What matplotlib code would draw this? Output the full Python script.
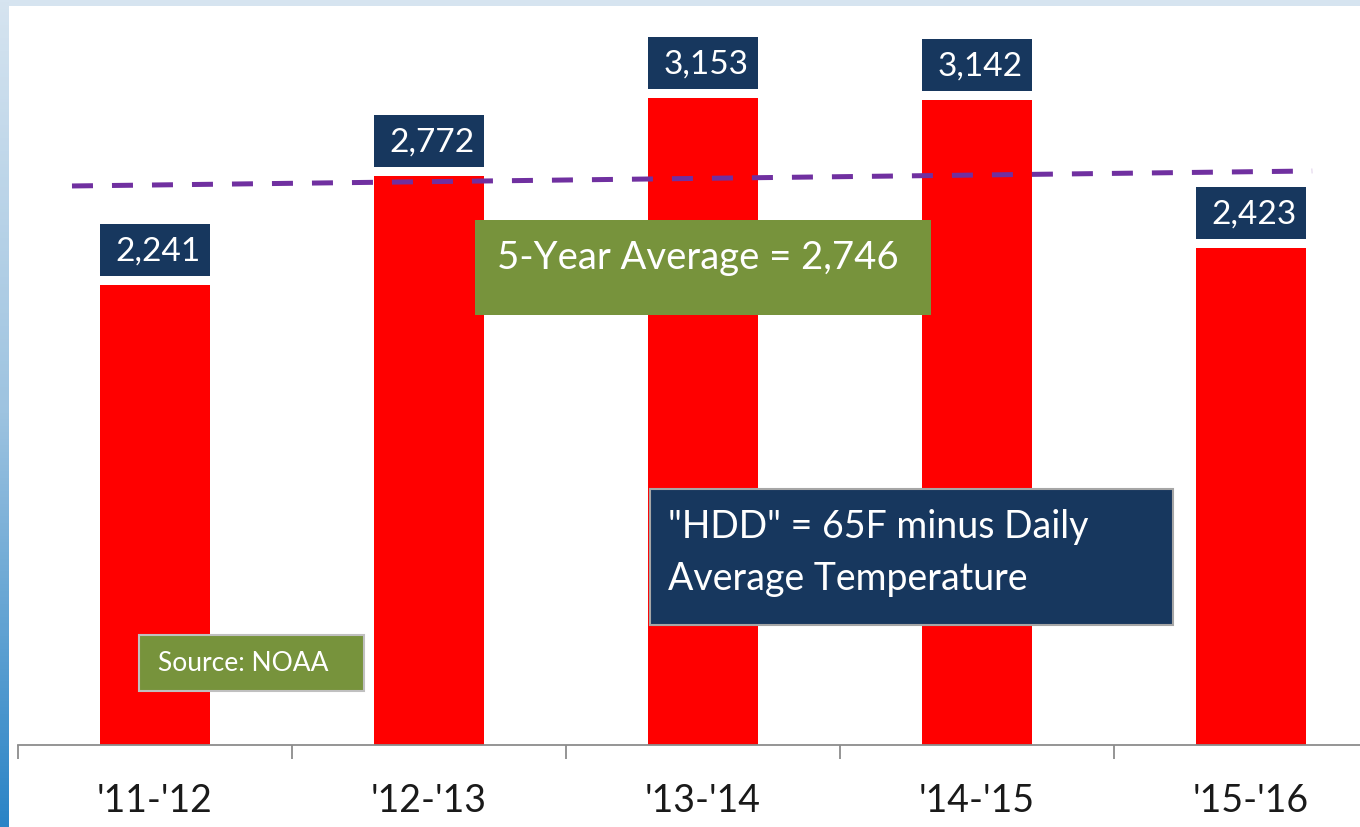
import numpy as np
import matplotlib
matplotlib.use("Agg")
import matplotlib.pyplot as plt
from matplotlib.patches import Rectangle
from matplotlib.colors import LinearSegmentedColormap

# ---- data ----
seasons = ["'11-'12", "'12-'13", "'13-'14", "'14-'15", "'15-'16"]
hdd = [2241, 2772, 3153, 3142, 2423]
value_labels = ["2,241", "2,772", "3,153", "3,142", "2,423"]
avg_line = [2723, 2796]          # dashed 5-year average line (start, end), as drawn
avg_text = "5-Year Average = 2,746"
hdd_text = "\"HDD\" = 65F minus Daily\nAverage Temperature"
source_text = "Source: NOAA"

plt.rcParams['font.family'] = ['Lato', 'DejaVu Sans']

W, H = 1360, 828
fig = plt.figure(figsize=(W / 100, H / 100), dpi=100)
fig.patch.set_facecolor('white')

# ---- background frame (pixel coords) ----
bg = fig.add_axes([0, 0, 1, 1])
bg.axis('off')
bg.add_patch(Rectangle((0, 0), W, 7, color='#D6E4F0', lw=0))
grad = np.linspace(0, 1, 256).reshape(-1, 1)
cm = LinearSegmentedColormap.from_list('strip', ['#D6E4F0', '#9DC3E0', '#2A84C6'])
bg.imshow(grad, cmap=cm, aspect='auto', extent=[0, 9, H, 0], zorder=1)
bg.set_xlim(0, W)
bg.set_ylim(H, 0)

# ---- main chart ----
ax = fig.add_axes([0, 0, 1, 1])
ax.patch.set_alpha(0)
px_per_cat = 274.0
px_per_unit = 0.2053
base_px = 746.0
x0_px = 18.0
ax.set_xlim(-0.5 - x0_px / px_per_cat, -0.5 + (W - x0_px) / px_per_cat)
ax.set_ylim(-(H - base_px) / px_per_unit, base_px / px_per_unit)

x = np.arange(len(seasons))
bar_w = 0.40
ax.bar(x, hdd, width=bar_w, color='#FF0000', zorder=2)

# value label boxes
gap = 9 / px_per_unit
bh = 52 / px_per_unit
for xi, v, lab in zip(x, hdd, value_labels):
    ax.add_patch(Rectangle((xi - bar_w / 2, v + gap), bar_w, bh,
                           facecolor='#17375E', edgecolor='none', zorder=3))
    ax.text(xi + 0.01, v + gap + bh / 2 - 1 / px_per_unit, lab, ha='center', va='center',
            color='white', fontsize=24, zorder=4)

# dashed average line
ax.plot([-0.303, 4.223], avg_line, color='#7030A0', lw=3.6,
        dashes=(4.2, 3.8), solid_capstyle='butt', zorder=5)

# axis
for s in ['top', 'right', 'left']:
    ax.spines[s].set_visible(False)
ax.spines['bottom'].set_position(('data', 0))
ax.spines['bottom'].set_color('#8C8C8C')
ax.spines['bottom'].set_linewidth(1.3)
ax.spines['bottom'].set_bounds(-0.5, ax.get_xlim()[1])
ax.set_yticks([])
ax.set_xticks(x)
ax.set_xticklabels(seasons, fontsize=27, color='#1A1A1A')
ax.tick_params(axis='x', which='major', length=0, pad=27)
ax.set_xticks(np.arange(-0.5, len(seasons) - 0.5, 1.0), minor=True)
ax.tick_params(axis='x', which='minor', length=10, width=1.3,
               color='#8C8C8C', direction='out')

# ---- annotation boxes (pixel coords overlay) ----
ov = fig.add_axes([0, 0, 1, 1])
ov.patch.set_alpha(0)
ov.set_xlim(0, W)
ov.set_ylim(H, 0)
ov.axis('off')

ov.add_patch(Rectangle((475, 221), 456, 95, facecolor='#77933C',
                       edgecolor='none', zorder=2))
ov.text(497, 258, avg_text, ha='left', va='center', color='white',
        fontsize=27.5, zorder=3)

ov.add_patch(Rectangle((650, 490), 523, 136, facecolor='#17375E',
                       edgecolor='#A6A6A6', lw=1.5, zorder=2))
ov.text(668, 553, hdd_text, ha='left', va='center', color='white',
        fontsize=27, linespacing=1.55, zorder=3)

ov.add_patch(Rectangle((139, 636), 225, 56, facecolor='#77933C',
                       edgecolor='#C0C0C0', lw=1.5, zorder=2))
ov.text(158, 664, source_text, ha='left', va='center', color='white',
        fontsize=19, zorder=3)

fig.savefig('out.png', dpi=100, facecolor=fig.get_facecolor())
